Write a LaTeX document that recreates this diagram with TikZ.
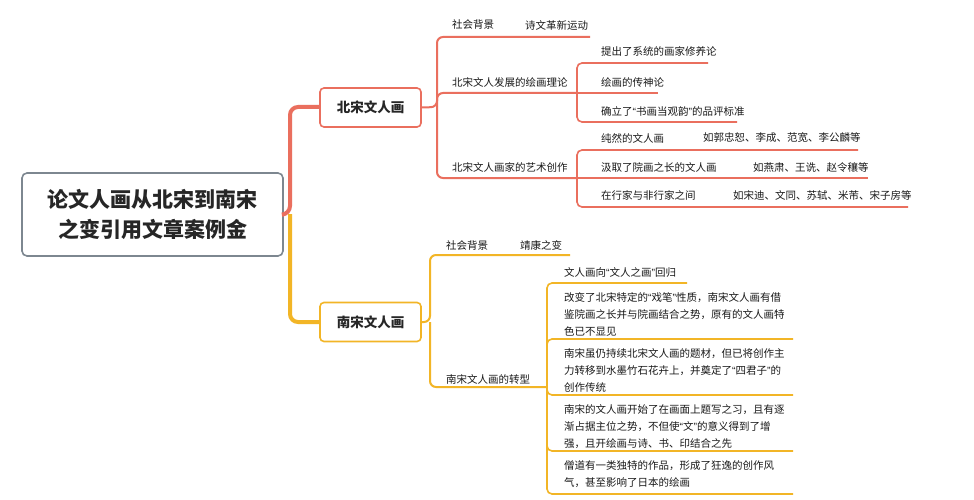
\documentclass[tikz,border=0pt]{standalone}
\usepackage{fontspec}
\setmainfont{Noto Sans CJK SC}
\newfontfamily\latq{Liberation Sans}
\newcommand{\qL}{{\latq “}}
\newcommand{\qR}{{\latq ”}}
\begin{document}
\begin{tikzpicture}[x=1pt,y=-1pt,
  txt/.style={anchor=west,inner sep=0pt,font=\fontsize{10.5}{17}\selectfont,text=black!90},
  mtxt/.style={anchor=north west,inner sep=0pt,align=left,font=\fontsize{10.5}{17}\selectfont,text=black!90},
  redl/.style={draw=red1,line width=2pt,rounded corners=6pt},
  redt/.style={draw=red1,line width=1.6pt,rounded corners=5pt},
  yell/.style={draw=yel1,line width=2pt,rounded corners=6pt},
  yelt/.style={draw=yel1,line width=1.6pt,rounded corners=5pt},
  lvl1/.style={rounded corners=4pt,line width=1.6pt,fill=white,minimum width=101pt,minimum height=39pt,font=\fontsize{13.5}{15}\selectfont\bfseries,text=black!85}]
\definecolor{red1}{HTML}{EA6F5E}
\definecolor{yel1}{HTML}{F2B526}
\definecolor{gry}{HTML}{7D8790}
\useasboundingbox (0,0) rectangle (974,500);
\fill[white] (0,0) rectangle (974,500);
% root and level 1
\node[draw=gry,line width=1.6pt,rounded corners=5pt,minimum width=261pt,minimum height=83pt,align=center,font=\fontsize{21}{30}\selectfont\bfseries,text=black!85] (root) at (152.5,214.5) {论文人画从北宋到南宋\\之变引用文章案例金};
\coordinate (rs) at (290,214);
\draw[draw=red1,line width=4pt,rounded corners=8pt] (root.east) -- (rs) |- (320,107);
\draw[draw=yel1,line width=4pt,rounded corners=8pt] (rs) |- (320,322);
\node[lvl1,draw=red1] (nb) at (370.5,107.5) {北宋文人画};
\node[lvl1,draw=yel1] (sb) at (370.5,322) {南宋文人画};
% north children
\coordinate (ns) at (437,107);
\draw[redl] (nb.east) -- (ns) |- (590,37);
\draw[redl] (ns) |- (577,93);
\draw[redl] (ns) |- (577,178);
\node[txt] (n1) at (452,25) {社会背景};
\node[txt] (n1b) at (525,25) {诗文革新运动};
\node[txt] (n2) at (452,82) {北宋文人发展的绘画理论};
\node[txt] (n3) at (452,167) {北宋文人画家的艺术创作};
\draw[redt] (577,93) |- (708,63);
\draw[redt] (577,93) -- (658,93);
\draw[redt] (577,93) |- (737,122);
\node[txt] (t1) at (601,52) {提出了系统的画家修养论};
\node[txt] (t2) at (601,82) {绘画的传神论};
\node[txt] (t3) at (601,111) {确立了\qL 书画当观韵\qR 的品评标准};
\draw[redt] (577,178) |- (858,150);
\draw[redt] (577,178) -- (868,178);
\draw[redt] (577,178) |- (908,207);
\node[txt] (c1) at (601,138) {纯然的文人画};
\node[txt] (c1b) at (703,138) {如郭忠恕、李成、范宽、李公麟等};
\node[txt] (c2) at (601,167) {汲取了院画之长的文人画};
\node[txt] (c2b) at (753,167) {如燕肃、王诜、赵令穰等};
\node[txt] (c3) at (601,195) {在行家与非行家之间};
\node[txt] (c3b) at (733,195) {如宋迪、文同、苏轼、米芾、宋子房等};
% south children
\coordinate (ss) at (430,322);
\draw[yell] (sb.east) -- (ss) |- (570,255);
\draw[yell] (ss) |- (547,387);
\node[txt] (s1) at (446,245) {社会背景};
\node[txt] (s1b) at (520,245) {靖康之变};
\node[txt] (s2) at (446,379) {南宋文人画的转型};
\draw[yelt] (547,387) |- (687,283);
\draw[yelt] (547,387) |- (793,339);
\draw[yelt] (547,387) |- (793,395);
\draw[yelt] (547,387) |- (793,451);
\draw[yelt] (547,387) |- (793,494);
\node[txt] (u1) at (564,272) {文人画向\qL 文人之画\qR 回归};
\node[mtxt] (u2) at (564,292) {改变了北宋特定的\qL 戏笔\qR 性质，南宋文人画有借\\鉴院画之长并与院画结合之势，原有的文人画特\\色已不显见};
\node[mtxt] (u3) at (564,348.5) {南宋虽仍持续北宋文人画的题材，但已将创作主\\力转移到水墨竹石花卉上，并奠定了\qL 四君子\qR 的\\创作传统};
\node[mtxt] (u4) at (564,404.5) {南宋的文人画开始了在画面上题写之习，且有逐\\渐占据主位之势，不但使\qL 文\qR 的意义得到了增\\强，且开绘画与诗、书、印结合之先};
\node[mtxt] (u5) at (564,460.5) {僧道有一类独特的作品，形成了狂逸的创作风\\气，甚至影响了日本的绘画};
\end{tikzpicture}
\end{document}
